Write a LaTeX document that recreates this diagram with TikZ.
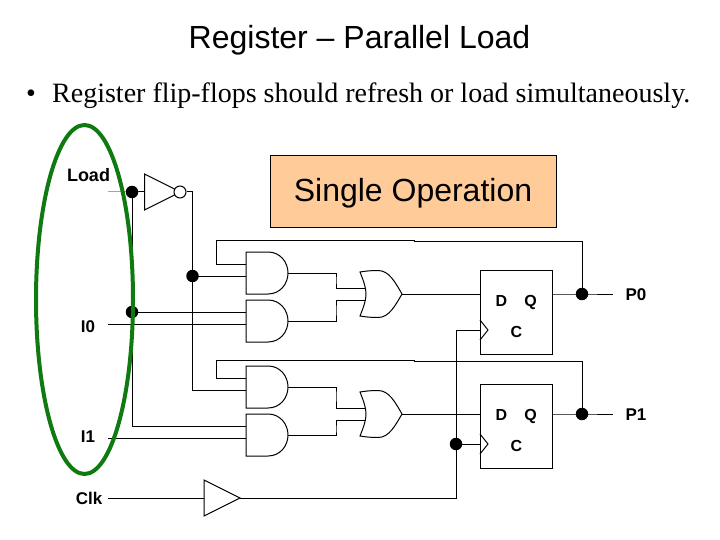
\documentclass[tikz,border=0pt]{standalone}
\usepackage{fontspec}
\usetikzlibrary{shapes.geometric}
\setmainfont{Liberation Sans}
\newfontfamily\serifface{Liberation Serif}
\definecolor{peach}{HTML}{FFCC99}
\definecolor{ovalgreen}{HTML}{0F7A0F}
\tikzset{
  x=1pt,y=-1pt,
  wire/.style={draw=black,line width=1pt},
  junction/.style={circle,fill=black,inner sep=0pt,minimum size=12.5pt},
  pinlabel/.style={font=\fontsize{17}{17}\bfseries\selectfont,inner sep=0pt},
  fflabel/.style={font=\fontsize{16}{16}\bfseries\selectfont,inner sep=0pt,anchor=base},
  ffbox/.style={draw=black,line width=1pt,minimum width=72pt,minimum height=84pt,inner sep=0pt,fill=none},
  andgate/.pic={
    \draw[wire] (0,0) -- (22,0) .. controls (34,0) and (42,10) .. (42,21) .. controls (42,32) and (34,42) .. (22,42) -- (0,42) -- cycle;
    \coordinate (-in1) at (0,12);
    \coordinate (-in2) at (0,24);
    \coordinate (-out) at (42,21);
  },
  orgate/.pic={
    \draw[wire] (0,0) .. controls (6,-1) and (11,-1.5) .. (18,-1.5) .. controls (29,-1.5) and (35,10) .. (42,22) .. controls (35,34) and (29,45.5) .. (18,45.5) .. controls (11,45.5) and (6,45) .. (0,44) .. controls (4,34) and (6,28) .. (6,22) .. controls (6,16) and (4,10) .. (0,0) -- cycle;
    \coordinate (-in1) at (6,16);
    \coordinate (-in2) at (6,28);
    \coordinate (-out) at (42,22);
  },
  buffergate/.pic={
    \draw[wire] (0,-18) -- (36,0) -- (0,18) -- cycle;
    \coordinate (-in) at (0,0);
    \coordinate (-out) at (36,0);
  },
  clocknotch/.pic={
    \draw[wire] (0,-10) -- (8,0) -- (0,10);
  }
}
\begin{document}
\begin{tikzpicture}
\useasboundingbox (0,0) rectangle (720,540);
% texts
\node[inner sep=0pt,font=\fontsize{32}{32}\selectfont] (title) at (359.5,40) {Register – Parallel Load};
\node[inner sep=0pt,font=\serifface\fontsize{28}{28}\selectfont,anchor=base west] (bulletmark) at (26,103) {•};
\node[inner sep=0pt,font=\serifface\fontsize{28}{28}\selectfont,anchor=base west] (bullet) at (52,103) {Register flip-flops should refresh or load simultaneously.};
\node[draw=black,fill=peach,line width=1pt,minimum width=286pt,minimum height=72pt,inner sep=0pt] (single) at (413,192) {};
\node[inner sep=0pt,font=\fontsize{32}{32}\selectfont] (singletext) at (413,193) {Single Operation};

% pin labels
\node[pinlabel,font=\fontsize{18}{18}\bfseries\selectfont] (lload) at (88.5,175) {Load};
\node[pinlabel] (li0) at (88,327) {I0};
\node[pinlabel] (li1) at (88,437) {I1};
\node[pinlabel] (lclk) at (89,498) {Clk};
\node[pinlabel] (lp0) at (636,295) {P0};
\node[pinlabel] (lp1) at (636,415) {P1};

% input stubs
\coordinate (inload) at (108,192);
\coordinate (ini0) at (108,324);
\coordinate (ini1) at (108,438);
\coordinate (inclk) at (108,498);
\coordinate (endp0) at (613,294);
\coordinate (endp1) at (613,414);

% gates
\pic (a1) at (246,252) {andgate};
\pic (a2) at (246,300) {andgate};
\pic (a3) at (246,366) {andgate};
\pic (a4) at (246,414) {andgate};
\pic (o1) at (360,272) {orgate};
\pic (o2) at (360,392) {orgate};
\pic (buf) at (204,498) {buffergate};
\pic (inv) at (144.5,192) {buffergate};
\node[draw=black,fill=white,circle,line width=1pt,inner sep=0pt,minimum size=12pt] (bubble) at (180,192) {};

% flip-flops
\node[ffbox] (ff1) at (516,312) {};
\node[ffbox] (ff2) at (516,426) {};
\node[fflabel] (d1) at (501.5,306.5) {D};
\node[fflabel] (q1) at (530.5,306.5) {Q};
\node[fflabel] (c1) at (516.5,337.5) {C};
\node[fflabel] (d2) at (501.5,420) {D};
\node[fflabel] (q2) at (530.5,420) {Q};
\node[fflabel] (c2) at (516.5,451.5) {C};
\pic at (480,330) {clocknotch};
\pic at (480,444) {clocknotch};
\coordinate (ff1d) at (480,294);
\coordinate (ff1q) at (552,294);
\coordinate (ff1c) at (480,330);
\coordinate (ff2d) at (480,414);
\coordinate (ff2q) at (552,414);
\coordinate (ff2c) at (480,444);

% junctions
\node[junction] (jload) at (132,192) {};
\node[junction] (ji0) at (132,312) {};
\node[junction] (jnot) at (192.5,276) {};
\node[junction] (jp0) at (582,294) {};
\node[junction] (jp1) at (582,414) {};
\node[junction] (jclk) at (456,444) {};

% bends
\coordinate (fb1a) at (216,240);
\coordinate (fb1m) at (414,240);
\coordinate (fb1n) at (414,241);
\coordinate (fb1b) at (582,241);
\coordinate (fb2a) at (216,360);
\coordinate (fb2m) at (414,360);
\coordinate (fb2n) at (414,361);
\coordinate (fb2b) at (582,361);
\coordinate (b1) at (336,280);
\coordinate (b2) at (336,310);
\coordinate (b3) at (336,395);
\coordinate (b4) at (336,430);
\coordinate (clktop) at (456,330);
\coordinate (clkbot) at (456,498);

% wires
\draw[wire] (inload) -- (jload.center) -- (inv-in);
\draw[wire] (bubble.east) -| (jnot.center);
\draw[wire] (jnot.center) -- (a1-in2);
\draw[wire] (jnot.center) |- (a3-in2);
\draw[wire] (jload.center) -- (ji0.center);
\draw[wire] (ji0.center) |- (a4-in1);
\draw[wire] (ji0.center) -- (a2-in1);
\draw[wire] (ini0) -- (a2-in2);
\draw[wire] (ini1) -- (a4-in2);
\draw[wire] (inclk) -- (buf-in);
\draw[wire] (buf-out) -| (clkbot) -- (clktop);
\draw[wire] (clktop) -- (ff1c);
\draw[wire] (jclk.center) -- (ff2c);
\draw[wire] (a1-out) -| (b1) |- (o1-in1);
\draw[wire] (a2-out) -| (b2) |- (o1-in2);
\draw[wire] (a3-out) -| (b3) |- (o2-in1);
\draw[wire] (a4-out) -| (b4) |- (o2-in2);
\draw[wire] (o1-out) -- (ff1d);
\draw[wire] (o2-out) -- (ff2d);
\draw[wire] (ff1q) -- (jp0.center) -- (endp0);
\draw[wire] (ff2q) -- (jp1.center) -- (endp1);
\draw[wire] (jp0.center) -- (fb1b) -- (fb1n) -- (fb1m) -- (fb1a) |- (a1-in1);
\draw[wire] (jp1.center) -- (fb2b) -- (fb2n) -- (fb2m) -- (fb2a) |- (a3-in1);

% oval
\node[draw=ovalgreen,line width=4pt,ellipse,minimum width=97pt,minimum height=349pt,inner sep=0pt] (oval) at (84.5,299.5) {};
\end{tikzpicture}
\end{document}
